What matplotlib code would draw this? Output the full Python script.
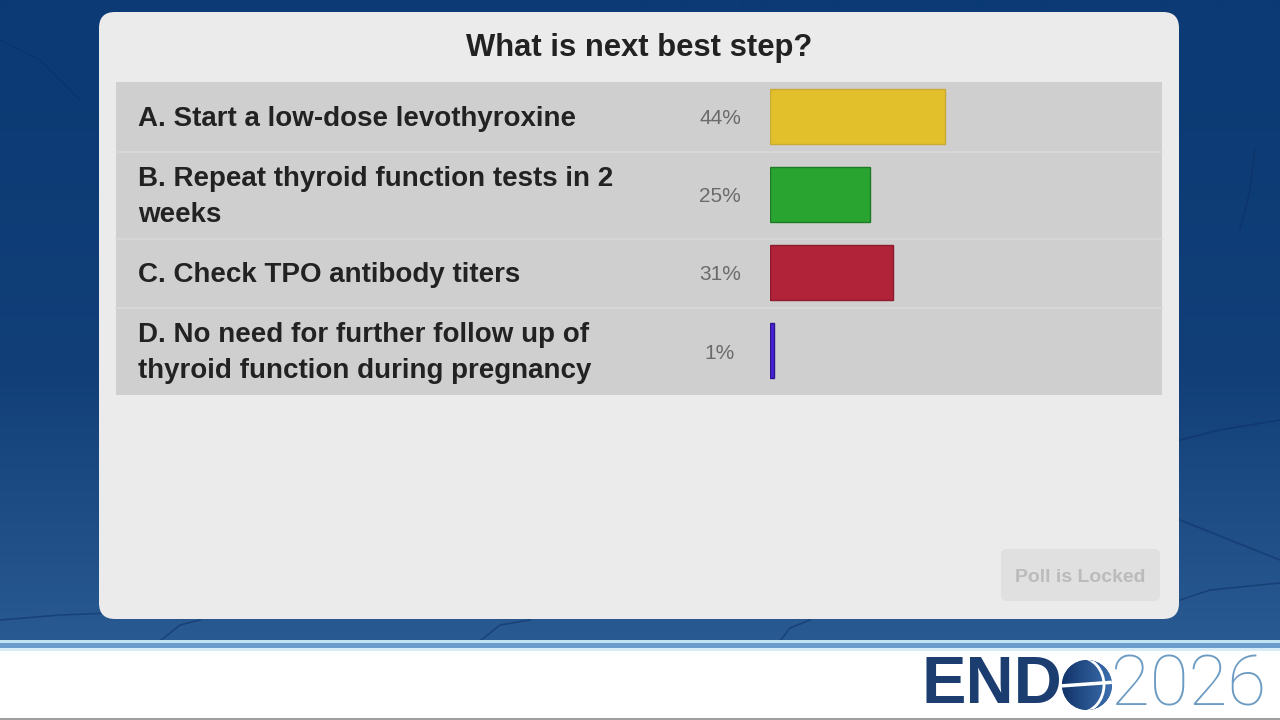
import numpy as np
import matplotlib
matplotlib.use("Agg")
import matplotlib.pyplot as plt
from matplotlib.patches import FancyBboxPatch, Rectangle, Circle, Arc
from matplotlib.colors import LinearSegmentedColormap
from matplotlib import transforms

# ---- data ----
title = "What is next best step?"
options = [
    "A. Start a low-dose levothyroxine",
    "B. Repeat thyroid function tests in 2\nweeks",
    "C. Check TPO antibody titers",
    "D. No need for further follow up of\nthyroid function during pregnancy",
]
percents = [44, 25, 31, 1]
bar_colors = ["#e2c02b", "#2aa431", "#b02339", "#4a22d8"]
edge_colors = ["#c9a934", "#1f7a26", "#8e1b2c", "#2a1490"]
button_text = "Poll is Locked"

W, H = 1280, 720
fig = plt.figure(figsize=(12.8, 7.2), dpi=100)

# ---- background / decor axes in pixel coordinates ----
bg = fig.add_axes([0, 0, 1, 1], zorder=0)
bg.set_xlim(0, W)
bg.set_ylim(H, 0)
bg.axis("off")

cmap = LinearSegmentedColormap.from_list("bgc", ["#0b3a74", "#123f78", "#2a5a92"])
grad = np.linspace(0, 1, 256)[:, None] ** 1.3
bg.imshow(grad, extent=(0, W, 641, 0), cmap=cmap, aspect="auto", zorder=0)

# faint vein-like decoration
rng_lines = [
    ([0, 60, 140, 220, 300], [620, 615, 612, 608, 605]),
    ([1180, 1220, 1250, 1280], [440, 430, 425, 420]),
    ([1180, 1230, 1280], [520, 540, 560]),
    ([1180, 1210, 1260, 1280], [600, 590, 585, 583]),
    ([1240, 1250, 1255], [230, 190, 150]),
    ([0, 40, 80], [40, 60, 100]),
    ([160, 180, 200], [641, 625, 620]),
    ([480, 500, 530], [641, 625, 620]),
    ([780, 790, 810], [641, 628, 620]),
]
for xs, ys in rng_lines:
    bg.plot(xs, ys, color="#0a2f63", lw=1.2, alpha=0.5, zorder=1)

# bottom white band + stripes
bg.add_patch(Rectangle((0, 650), W, 70, fc="white", ec="none", zorder=2))
bg.add_patch(Rectangle((0, 640), W, 2.5, fc="#c3e2f3", ec="none", zorder=2))
bg.add_patch(Rectangle((0, 642.5), W, 5.5, fc="#6a9dcc", ec="none", zorder=2))
bg.add_patch(Rectangle((0, 648), W, 2.5, fc="#d6ecf7", ec="none", zorder=2))
bg.add_patch(Rectangle((0, 717.5), W, 2.5, fc="#a0a0a0", ec="none", zorder=2))

# card
bg.add_patch(FancyBboxPatch((99 + 16, 12 + 16), 1080 - 32, 607 - 32,
                            boxstyle="round,pad=16", fc="#ebebeb", ec="none", zorder=3))
bg.text(639, 48, title, ha="center", va="center", fontsize=22.3,
        fontweight="bold", family="Liberation Sans", color="#222222", zorder=5)

# table panel and row separators
bg.add_patch(Rectangle((116, 82), 1046, 313, fc="#cfcfcf", ec="none", zorder=4))
for yy in [152, 239, 308]:
    bg.plot([116, 1162], [yy, yy], color="#d9d9d9", lw=1.2, zorder=4.5)

# button
bg.add_patch(FancyBboxPatch((1001 + 6, 549 + 6), 159 - 12, 52 - 12,
                            boxstyle="round,pad=6", fc="#e0e0e0", ec="none", zorder=4))
bg.text(1080.5, 577, button_text, ha="center", va="center", fontsize=14,
        fontweight="bold", family="Liberation Sans", color="#bbbbbb", zorder=5)

# logo
bg.text(921, 686, "END", ha="left", va="center", fontsize=48, fontweight="bold",
        family="Liberation Sans", color="#1b3d70", zorder=5)
globe = Circle((1087, 685), 25, fc="#1f4b88", ec="none", zorder=5)
bg.add_patch(globe)
gl = np.linspace(0, 1, 64)[None, :]
im = bg.imshow(gl, extent=(1062, 1112, 710, 660), cmap=LinearSegmentedColormap.from_list(
    "g", ["#12346a", "#3c6fae"]), aspect="auto", zorder=5.1)
im.set_clip_path(globe)
ln1, = bg.plot([1060, 1116], [686, 682], color="white", lw=2.5, zorder=5.2)
ln1.set_clip_path(globe)
arc = Arc((1079, 685), 50, 56, theta1=-90, theta2=90, color="white", lw=2.0, zorder=5.2)
bg.add_patch(arc)
arc.set_clip_path(globe)
bg.text(1111, 686, "2026", ha="left", va="center", fontsize=51, fontweight="light",
        family=["Roboto", "Liberation Sans"], color="#6b9bc3", zorder=5)

# ---- bar axes ----
left_px, right_px, top_px, bot_px = 770, 1168, 82, 395
ax = fig.add_axes([left_px / W, 1 - bot_px / H, (right_px - left_px) / W,
                   (bot_px - top_px) / H], zorder=2)
ax.patch.set_alpha(0)
ax.axis("off")
ax.set_xlim(0, 100)
row_h = 78.0
first_center = 34.5
ax.set_ylim((bot_px - top_px - first_center) / row_h, -first_center / row_h)
y = np.arange(len(percents))
ax.barh(y, percents, height=55 / row_h, left=0, color=bar_colors,
        edgecolor=edge_colors, linewidth=1.0)

down2 = ax.transData + transforms.ScaledTranslation(0, -2.5 / 100, fig.dpi_scale_trans)
px_per_unit = (right_px - left_px) / 100.0
for i, (p, lab) in enumerate(zip(percents, options)):
    ax.text((720 - left_px) / px_per_unit, i, f"{p}%", ha="center", va="center",
            fontsize=15, family="Liberation Sans", color="#6b6b6b", clip_on=False,
            transform=down2)
    ax.text((138 - left_px) / px_per_unit, i, lab, ha="left", va="center",
            fontsize=20, fontweight="bold", family="Liberation Sans",
            color="#222222", linespacing=1.52, clip_on=False, transform=down2)

fig.savefig("out.png", dpi=100)
